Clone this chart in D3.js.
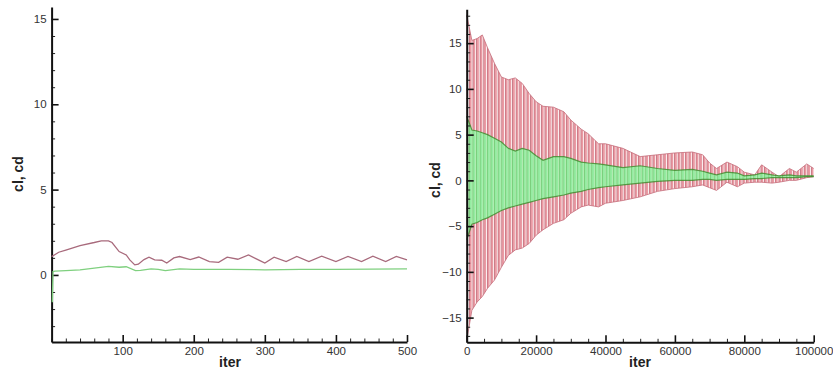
<!DOCTYPE html>
<html><head><meta charset="utf-8">
<script src="https://cdn.jsdelivr.net/npm/d3@7"></script>
<style>
html,body{margin:0;padding:0;background:#fff;}
svg{display:block;}
.tick text{font-family:Arial,"Liberation Sans",sans-serif;font-size:11.5px;fill:#333;}
.title{font-family:Arial,"Liberation Sans",sans-serif;font-weight:bold;font-size:14px;fill:#222;}
</style></head>
<body>
<script>
// ---------- Left panel data (first 500 iterations) ----------
const leftClIter = [0, 10, 20, 40, 60, 70, 80, 85, 95, 105, 110, 117, 122, 130, 137, 145, 155, 162, 172, 180, 195, 207, 222, 235, 247, 262, 277, 293, 300, 313, 330, 345, 362, 380, 400, 417, 436, 452, 470, 485, 500];
const leftCl     = [1.07, 1.33, 1.46, 1.72, 1.9, 2.0, 2.0, 1.9, 1.37, 1.17, 0.88, 0.59, 0.63, 0.9, 1.04, 0.88, 0.86, 0.7, 1.0, 1.08, 0.9, 1.05, 0.78, 0.74, 1.04, 0.92, 1.17, 0.84, 0.7, 1.04, 0.78, 1.08, 0.78, 1.1, 0.78, 1.08, 0.78, 1.1, 0.78, 1.08, 0.88];
const leftCdIter = [1, 2, 5, 20, 40, 60, 80, 95, 105, 118, 125, 140, 150, 160, 180, 200, 250, 300, 350, 400, 450, 500];
const leftCd     = [-1.6, 0.2, 0.22, 0.25, 0.3, 0.4, 0.5, 0.45, 0.48, 0.25, 0.27, 0.35, 0.33, 0.25, 0.35, 0.33, 0.33, 0.3, 0.33, 0.32, 0.34, 0.36];
const leftXTicks = [100, 200, 300, 400, 500];
const leftYTicks = [0, 5, 10, 15];

// ---------- Right panel data (envelopes of the oscillating signals) ----------
const rightIter = [0, 1500, 3000, 4500, 6000, 8000, 10000, 12000, 14000, 16000, 18000, 20000, 22000, 25000, 28000, 30000, 33000, 35000, 38000, 40000, 45000, 50000, 55000, 60000, 65000, 68000, 70000, 72000, 75000, 78000, 80000, 83000, 85000, 88000, 90000, 93000, 95000, 98000, 100000];
const clUpper = [18.1, 15.3, 15.5, 15.9, 14.5, 12.8, 11.3, 11.0, 11.2, 10.6, 9.5, 8.6, 8.1, 8.0, 7.5, 6.6, 5.6, 5.1, 4.0, 4.0, 3.5, 2.6, 2.8, 3.0, 3.1, 2.8, 1.9, 1.3, 2.0, 1.5, 0.9, 0.6, 1.7, 0.9, 0.4, 1.3, 0.9, 1.8, 1.3];
const clLower = [-17.5, -14.2, -13.3, -12.7, -11.8, -10.9, -9.5, -8.2, -7.6, -7.4, -6.9, -6.0, -5.4, -4.7, -4.3, -3.6, -2.9, -2.7, -2.9, -2.5, -2.2, -1.8, -1.2, -0.9, -0.7, -0.5, -0.8, -1.1, -0.2, -0.7, -0.3, -0.2, -0.2, -0.3, -0.2, 0.0, 0.0, 0.3, 0.4];
const cdUpper = [7.0, 5.5, 5.4, 5.2, 5.0, 4.6, 4.2, 3.5, 3.2, 3.5, 3.3, 2.7, 2.2, 2.6, 2.6, 2.4, 2.0, 1.9, 1.8, 1.7, 1.4, 1.6, 1.3, 1.1, 1.2, 1.0, 0.8, 0.6, 0.9, 0.8, 0.5, 0.6, 0.8, 0.6, 0.5, 0.6, 0.5, 0.5, 0.5];
const cdLower = [-6.5, -4.8, -4.6, -4.3, -4.1, -3.7, -3.3, -3.0, -2.8, -2.6, -2.4, -2.2, -2.0, -1.8, -1.6, -1.4, -1.2, -1.0, -0.8, -0.7, -0.5, -0.3, -0.1, 0.0, 0.0, 0.1, 0.1, 0.0, 0.1, 0.1, 0.1, 0.2, 0.2, 0.3, 0.3, 0.3, 0.3, 0.4, 0.4];
const rightXTicks = [0, 20000, 40000, 60000, 80000, 100000];
const rightYTicks = [-15, -10, -5, 0, 5, 10, 15];

const svg = d3.select("body").append("svg").attr("width", 833).attr("height", 373);
const defs = svg.append("defs");

// stripe textures for the densely oscillating signals
const pinkPat = defs.append("pattern").attr("id", "pinkStripes").attr("patternUnits", "userSpaceOnUse")
  .attr("width", 3.6).attr("height", 10);
pinkPat.append("rect").attr("width", 3.6).attr("height", 10).attr("fill", "#eb9ba4");
pinkPat.append("rect").attr("x", 0).attr("width", 0.9).attr("height", 10).attr("fill", "#fff").attr("opacity", 0.9);
pinkPat.append("rect").attr("x", 0.9).attr("width", 0.55).attr("height", 10).attr("fill", "#7a3040").attr("opacity", 0.55);

const greenPat = defs.append("pattern").attr("id", "greenStripes").attr("patternUnits", "userSpaceOnUse")
  .attr("width", 3.6).attr("height", 10);
greenPat.append("rect").attr("width", 3.6).attr("height", 10).attr("fill", "#95eca2");
greenPat.append("rect").attr("x", 0).attr("width", 0.7).attr("height", 10).attr("fill", "#dcffdc").attr("opacity", 0.8);
greenPat.append("rect").attr("x", 0.7).attr("width", 0.8).attr("height", 10).attr("fill", "#3f8f2a").attr("opacity", 0.5);

function drawAxes(g, x, y, xTicks, yTicks, xMinorStep, yMinorStep) {
  const [x0, x1] = x.domain();
  const [y0, y1] = y.domain();
  const xMinor = d3.range(Math.ceil(x0 / xMinorStep) * xMinorStep, x1 + 1e-9, xMinorStep).filter(v => !xTicks.includes(v));
  const yMinor = d3.range(Math.ceil(y0 / yMinorStep) * yMinorStep, y1 + 1e-9, yMinorStep).filter(v => !yTicks.includes(v));
  const bottom = y.range()[0], left = x.range()[0];

  g.append("g").attr("transform", `translate(0,${bottom})`)
    .call(d3.axisBottom(x).tickValues(xMinor).tickSize(-3.5).tickSizeOuter(0).tickFormat(""))
    .call(a => a.select(".domain").remove())
    .call(a => a.selectAll("line").attr("stroke", "#222").attr("stroke-width", 1));
  g.append("g").attr("transform", `translate(${left},0)`)
    .call(d3.axisLeft(y).tickValues(yMinor).tickSize(-3.5).tickSizeOuter(0).tickFormat(""))
    .call(a => a.select(".domain").remove())
    .call(a => a.selectAll("line").attr("stroke", "#222").attr("stroke-width", 1));

  g.append("g").attr("transform", `translate(0,${bottom})`)
    .call(d3.axisBottom(x).tickValues(xTicks).tickSize(-7).tickSizeOuter(0).tickPadding(5).tickFormat(d3.format("d")))
    .call(a => a.select(".domain").attr("stroke", "#111").attr("stroke-width", 2))
    .call(a => a.selectAll("line").attr("stroke", "#111").attr("stroke-width", 1.6));
  g.append("g").attr("transform", `translate(${left},0)`)
    .call(d3.axisLeft(y).tickValues(yTicks).tickSize(-7).tickSizeOuter(0).tickPadding(5).tickFormat(d3.format("d")))
    .call(a => a.select(".domain").attr("stroke", "#111").attr("stroke-width", 2))
    .call(a => a.selectAll("line").attr("stroke", "#111").attr("stroke-width", 1.6));
}

// ---------- Left panel ----------
{
  const g = svg.append("g");
  const x = d3.scaleLinear().domain([0, 500]).range([51.6, 407]);
  const y = d3.scaleLinear().domain([-3.93, 15.7]).range([342, 7]);

  const lineCl = d3.line().x((d, i) => x(leftClIter[i])).y(d => y(d));
  const lineCd = d3.line().x((d, i) => x(leftCdIter[i])).y(d => y(d));

  drawAxes(g, x, y, leftXTicks, leftYTicks, 20, 1);

  g.append("path").datum(leftCd).attr("d", lineCd).attr("fill", "none").attr("stroke", "#7fd07f").attr("stroke-width", 1.3);
  g.append("path").datum(leftCl).attr("d", lineCl).attr("fill", "none").attr("stroke", "#a86a7c").attr("stroke-width", 1.3);

  g.append("text").attr("class", "title").attr("x", 230).attr("y", 367).attr("text-anchor", "middle").text("iter");
  g.append("text").attr("class", "title").attr("transform", "translate(23,174) rotate(-90)").attr("text-anchor", "middle").text("cl, cd");
}

// ---------- Right panel ----------
{
  const g = svg.append("g");
  const x = d3.scaleLinear().domain([0, 100000]).range([466.7, 813.7]);
  const y = d3.scaleLinear().domain([-17.7, 18.7]).range([342.3, 9.3]);

  const clArea = d3.area().x((d, i) => x(rightIter[i])).y0((d, i) => y(clLower[i])).y1(d => y(d));
  const cdArea = d3.area().x((d, i) => x(rightIter[i])).y0((d, i) => y(cdLower[i])).y1(d => y(d));
  const edge = d3.line().x((d, i) => x(rightIter[i])).y(d => y(d));

  g.append("path").datum(clUpper).attr("d", clArea).attr("fill", "url(#pinkStripes)");
  g.append("path").datum(clUpper).attr("d", edge).attr("fill", "none").attr("stroke", "#c56b78").attr("stroke-width", 0.8);
  g.append("path").datum(clLower).attr("d", edge).attr("fill", "none").attr("stroke", "#c56b78").attr("stroke-width", 0.8);

  g.append("path").datum(cdUpper).attr("d", cdArea).attr("fill", "url(#greenStripes)");
  g.append("path").datum(cdUpper).attr("d", edge).attr("fill", "none").attr("stroke", "#3d8a2a").attr("stroke-width", 1.2).attr("opacity", 0.8);
  g.append("path").datum(cdLower).attr("d", edge).attr("fill", "none").attr("stroke", "#3d8a2a").attr("stroke-width", 1.2).attr("opacity", 0.8);

  drawAxes(g, x, y, rightXTicks, rightYTicks, 5000, 1);

  g.append("text").attr("class", "title").attr("x", 640).attr("y", 367).attr("text-anchor", "middle").text("iter");
  g.append("text").attr("class", "title").attr("transform", "translate(440,180) rotate(-90)").attr("text-anchor", "middle").text("cl, cd");
}
</script>
</body></html>
